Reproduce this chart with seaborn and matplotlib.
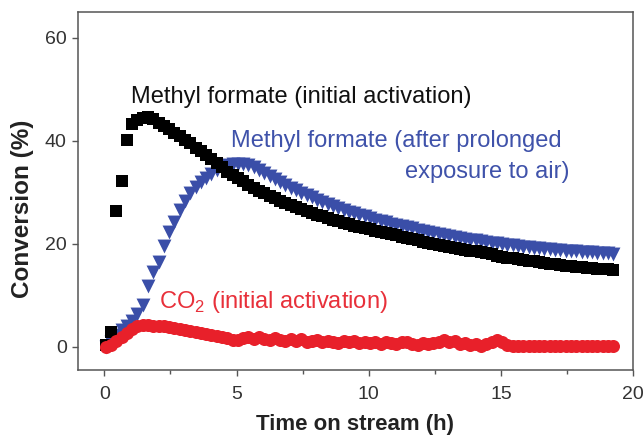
import matplotlib
matplotlib.use("Agg")
import matplotlib.pyplot as plt
from matplotlib.ticker import MultipleLocator
import pandas as pd
import seaborn as sns

# Sampling times (h)
time_h = [0.05, 0.25, 0.45, 0.65, 0.85, 1.05, 1.25, 1.45, 1.65, 1.85,
          2.05, 2.25, 2.45, 2.65, 2.85, 3.05, 3.25, 3.45, 3.65, 3.85,
          4.05, 4.25, 4.45, 4.65, 4.85, 5.05, 5.25, 5.45, 5.65, 5.85,
          6.05, 6.25, 6.45, 6.65, 6.85, 7.05, 7.25, 7.45, 7.65, 7.85,
          8.05, 8.25, 8.45, 8.65, 8.85, 9.05, 9.25, 9.45, 9.65, 9.85,
          10.05, 10.25, 10.45, 10.65, 10.85, 11.05, 11.25, 11.45, 11.65, 11.85,
          12.05, 12.25, 12.45, 12.65, 12.85, 13.05, 13.25, 13.45, 13.65, 13.85,
          14.05, 14.25, 14.45, 14.65, 14.85, 15.05, 15.25, 15.45, 15.65, 15.85,
          16.05, 16.25, 16.45, 16.65, 16.85, 17.05, 17.25, 17.45, 17.65, 17.85,
          18.05, 18.25, 18.45, 18.65, 18.85, 19.05, 19.25]

# Methyl formate conversion, initial activation (%)
mf_initial = [0.3, 2.8, 26.3, 32.2, 40.2, 43.3, 44.0, 44.5, 44.6, 44.2,
              43.5, 42.9, 42.3, 41.6, 40.9, 40.2, 39.5, 38.7, 38.0, 37.2,
              36.5, 35.7, 34.9, 34.0, 33.3, 32.7, 32.1, 31.5, 30.9, 30.3,
              29.8, 29.3, 28.8, 28.3, 27.9, 27.5, 27.1, 26.7, 26.3, 26.0,
              25.6, 25.3, 25.0, 24.7, 24.4, 24.1, 23.8, 23.5, 23.2, 23.0,
              22.8, 22.5, 22.3, 22.0, 21.8, 21.6, 21.3, 21.1, 20.9, 20.7,
              20.4, 20.2, 20.0, 19.7, 19.5, 19.3, 19.1, 18.9, 18.8, 18.6,
              18.5, 18.3, 18.1, 17.9, 17.7, 17.5, 17.3, 17.2, 17.0, 16.9,
              16.7, 16.6, 16.4, 16.3, 16.1, 16.0, 15.9, 15.7, 15.6, 15.5,
              15.4, 15.3, 15.2, 15.1, 15.0, 15.0, 14.9]

# Methyl formate conversion after prolonged exposure to air (%)
mf_exposed = [0.0, 0.8, 2.3, 3.2, 4.0, 5.0, 6.3, 8.0, 11.8, 14.5,
              16.5, 19.5, 22.3, 24.3, 26.5, 28.3, 29.8, 31.0, 32.0, 32.8,
              33.6, 34.3, 34.9, 35.3, 35.5, 35.5, 35.5, 35.3, 35.0, 34.4,
              33.8, 33.2, 32.6, 32.0, 31.4, 30.9, 30.4, 29.9, 29.4, 29.0,
              28.5, 28.1, 27.7, 27.3, 26.9, 26.6, 26.2, 25.9, 25.6, 25.3,
              25.0, 24.7, 24.5, 24.2, 23.9, 23.7, 23.4, 23.2, 23.0, 22.7,
              22.5, 22.3, 22.1, 21.9, 21.7, 21.5, 21.3, 21.2, 21.0, 20.8,
              20.7, 20.5, 20.4, 20.2, 20.1, 19.9, 19.8, 19.7, 19.5, 19.4,
              19.3, 19.2, 19.1, 19.0, 18.9, 18.8, 18.7, 18.6, 18.6, 18.5,
              18.4, 18.3, 18.3, 18.2, 18.1, 18.1, 18.0]

# CO2 conversion, initial activation (%)
co2_initial = [0.0, 0.3, 1.0, 1.8, 2.6, 3.4, 3.9, 4.1, 4.1, 4.0,
               4.0, 3.9, 3.8, 3.7, 3.5, 3.3, 3.0, 2.8, 2.6, 2.5,
               2.3, 2.1, 1.9, 1.6, 1.3, 1.2, 1.6, 1.9, 1.4, 1.8,
               1.5, 1.2, 1.6, 1.3, 1.0, 1.4, 1.1, 1.5, 0.9, 1.0,
               1.2, 0.8, 1.1, 0.9, 0.6, 1.0, 0.8, 1.1, 0.7, 0.9,
               0.6, 0.9, 0.5, 0.8, 0.6, 0.4, 0.8, 0.9, 0.5, 0.3,
               0.7, 0.5, 0.6, 0.9, 1.3, 0.8, 1.1, 0.5, 0.6, 0.3,
               0.4, 0.2, 0.5, 0.9, 1.2, 0.8, 0.3, 0.2, 0.2, 0.2,
               0.2, 0.2, 0.2, 0.2, 0.2, 0.2, 0.2, 0.2, 0.2, 0.2,
               0.2, 0.2, 0.2, 0.2, 0.2, 0.2, 0.2]

x_ticks = [0, 5, 10, 15, 20]
y_ticks = [0, 20, 40, 60]

BLACK = "#000000"
BLUE = "#3a4ea8"
RED = "#e8202a"

sns.set_style("ticks")
plt.rcParams["font.family"] = ["Liberation Sans", "DejaVu Sans"]
plt.rcParams["mathtext.fontset"] = "custom"
plt.rcParams["mathtext.rm"] = "Liberation Sans"

fig = plt.figure(figsize=(6.44, 4.37), dpi=100)
ax = fig.add_axes([0.121, 0.154, 0.862, 0.818])

series = [
    ("exposed", mf_exposed, BLUE, "v", 100),
    ("initial", mf_initial, BLACK, "s", 68),
    ("co2", co2_initial, RED, "o", 88),
]
for name, values, color, marker, size in series:
    df = pd.DataFrame({"t": time_h, "conv": values})
    sns.scatterplot(data=df, x="t", y="conv", ax=ax, color=color,
                    marker=marker, s=size, linewidth=0, legend=False,
                    zorder=3)

ax.set_xlim(-1, 20)
ax.set_ylim(-4.5, 65)
ax.set_xticks(x_ticks)
ax.set_yticks(y_ticks)
ax.xaxis.set_minor_locator(MultipleLocator(2.5))

spine_color = "#555555"
for side in ["left", "right", "top", "bottom"]:
    ax.spines[side].set_visible(True)
    ax.spines[side].set_color(spine_color)
    ax.spines[side].set_linewidth(1.1)

ax.tick_params(axis="both", which="major", direction="out", length=4,
               width=1.0, color=spine_color, labelsize=14,
               labelcolor="#333333")
ax.tick_params(axis="x", which="major", pad=8)
ax.tick_params(axis="y", which="major", pad=4)
ax.tick_params(axis="x", which="minor", direction="out", length=3,
               width=1.0, color=spine_color)
ax.tick_params(top=False, right=False, which="both")

ax.set_xlabel("Time on stream (h)", fontsize=16, fontweight="bold",
              color="#222222")
ax.set_ylabel("Conversion (%)", fontsize=17.5, fontweight="bold",
              color="#222222")
ax.xaxis.set_label_coords(0.5, -0.125)
ax.yaxis.set_label_coords(-0.08, 0.45)

ax.text(1.0, 48.6, "Methyl formate (initial activation)", color="#111111",
        fontsize=17, ha="left", va="center")
ax.text(4.78, 40.0, "Methyl formate (after prolonged", color="#3f52aa",
        fontsize=17, ha="left", va="center")
ax.text(17.6, 34.0, "exposure to air)", color="#3f52aa",
        fontsize=17, ha="right", va="center")
ax.text(2.06, 8.7, r"CO$_\mathrm{2}$ (initial activation)", color="#e8303a",
        fontsize=17, ha="left", va="center")

fig.savefig("out.png", dpi=100)
